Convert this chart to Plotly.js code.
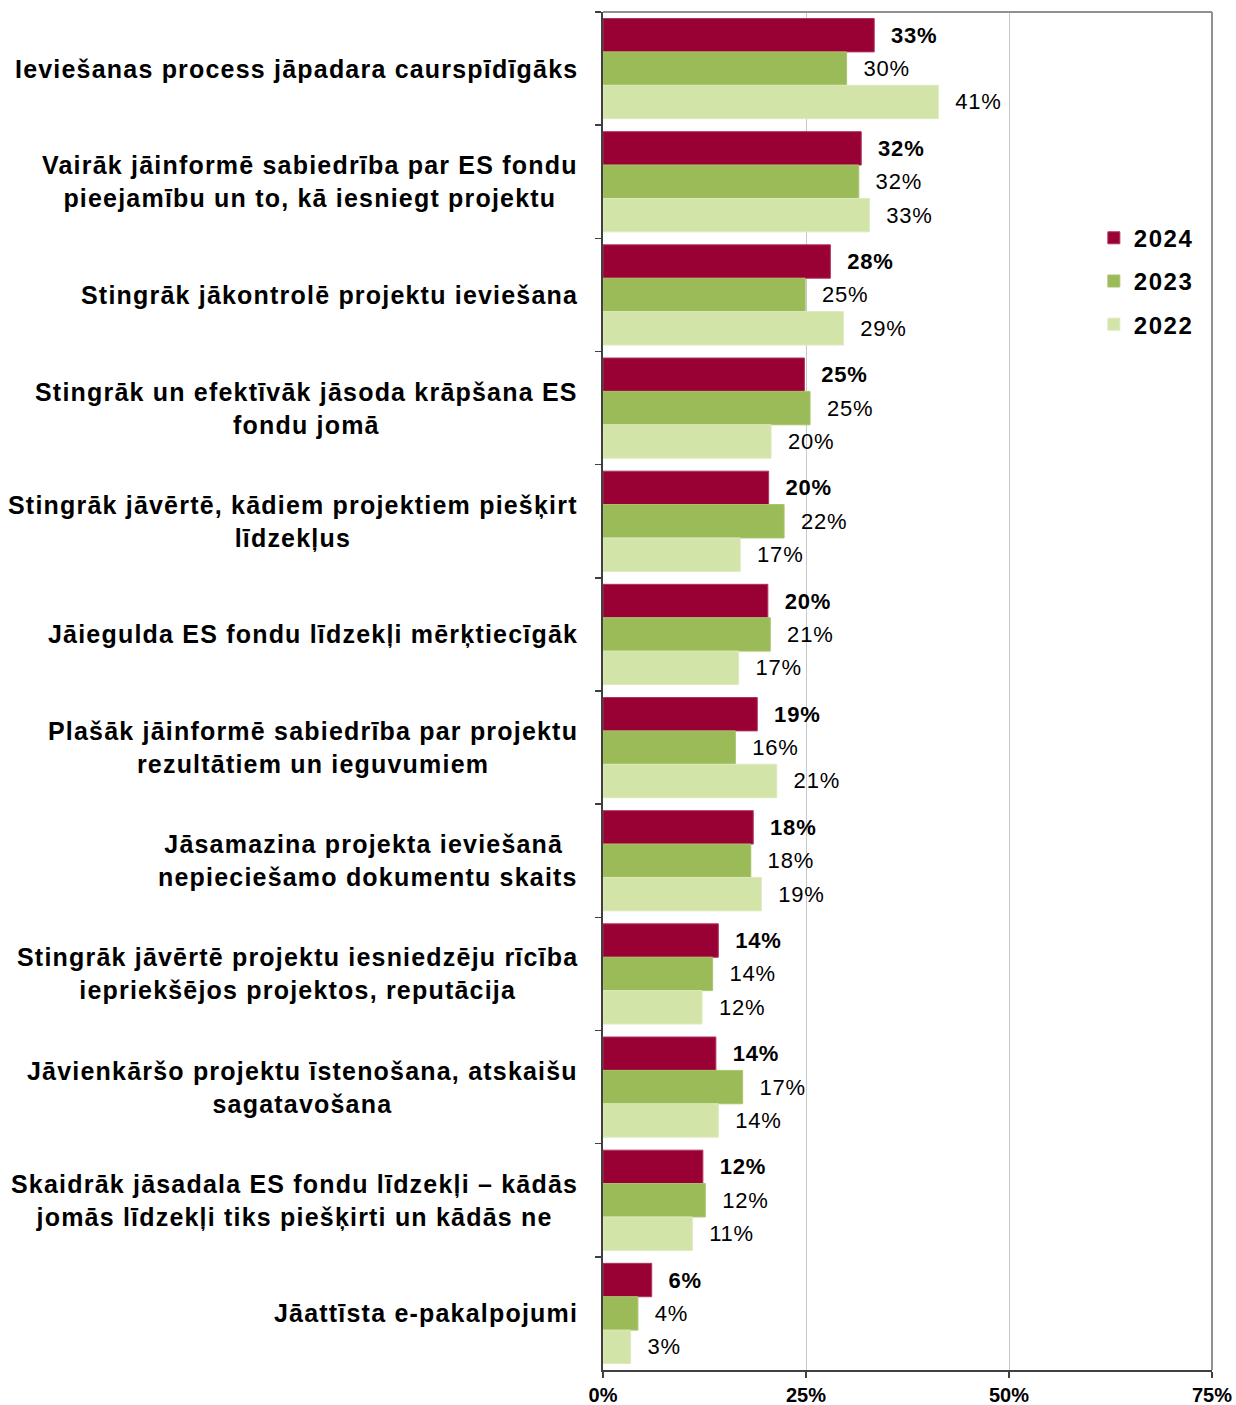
<!DOCTYPE html>
<html>
<head>
<meta charset="utf-8">
<script src="https://cdn.plot.ly/plotly-3.0.1.min.js"></script>
<style>
html, body { margin: 0; padding: 0; background: #ffffff; }
#chart { width: 1236px; height: 1405px; }
.annotation-text { letter-spacing: 1.2px; }
.legendtext { letter-spacing: 1.5px; }
.bartext { letter-spacing: 0.8px; }
</style>
</head>
<body>
<div id="chart"></div>
<script>
const categories = [
  "Ieviešanas process jāpadara caurspīdīgāks",
  "Vairāk jāinformē sabiedrība par ES fondu<br>pieejamību un to, kā iesniegt projektu",
  "Stingrāk jākontrolē projektu ieviešana",
  "Stingrāk un efektīvāk jāsoda krāpšana ES<br>fondu jomā",
  "Stingrāk jāvērtē, kādiem projektiem piešķirt<br>līdzekļus",
  "Jāiegulda ES fondu līdzekļi mērķtiecīgāk",
  "Plašāk jāinformē sabiedrība par projektu<br>rezultātiem un ieguvumiem",
  "Jāsamazina projekta ieviešanā&nbsp;<br>nepieciešamo dokumentu skaits",
  "Stingrāk jāvērtē projektu iesniedzēju rīcība<br>iepriekšējos projektos, reputācija",
  "Jāvienkāršo projektu īstenošana, atskaišu<br>sagatavošana",
  "Skaidrāk jāsadala ES fondu līdzekļi – kādās<br>jomās līdzekļi tiks piešķirti un kādās ne",
  "Jāattīsta e-pakalpojumi"
];
const catKeys = categories.map((c, i) => "c" + i);

const values2024 = [33.4, 31.8, 28.0, 24.8, 20.4, 20.3, 19.0, 18.5, 14.2, 13.9, 12.3, 6.0];
const values2023 = [30.0, 31.5, 24.9, 25.5, 22.3, 20.6, 16.3, 18.2, 13.5, 17.2, 12.6, 4.3];
const values2022 = [41.3, 32.8, 29.6, 20.7, 16.9, 16.7, 21.4, 19.5, 12.2, 14.2, 11.0, 3.4];

const labels2024 = [33, 32, 28, 25, 20, 20, 19, 18, 14, 14, 12, 6];
const labels2023 = [30, 32, 25, 25, 22, 21, 16, 18, 14, 17, 12, 4];
const labels2022 = [41, 33, 29, 20, 17, 17, 21, 19, 12, 14, 11, 3];

const xTickVals = [0, 25, 50, 75];
const xTickText = ["0%", "25%", "50%", "75%"];

const seriesNames = ["2024", "2023", "2022"];
const colors = ["#990033", "#9BBB59", "#D3E4A9"];
const lineColors = ["#b0335c", "#a9c46e", "#dde9bd"];

const pad = "\u00a0\u00a0";
function mk(name, vals, labs, idx, bold) {
  return {
    type: "bar",
    orientation: "h",
    name: name,
    y: catKeys,
    x: vals,
    text: labs.map(v => pad + (bold ? "<b>" + v + "%</b>" : v + "%")),
    textposition: "outside",
    constraintext: "none",
    cliponaxis: false,
    textfont: { family: "Liberation Sans, Arial, sans-serif", size: 22, color: "#000000" },
    marker: { color: colors[idx], line: { color: lineColors[idx], width: 1 } },
    legendgroup: "g" + idx,
    hoverinfo: "skip"
  };
}

const data = [
  mk(seriesNames[0], values2024, labels2024, 0, true),
  mk(seriesNames[1], values2023, labels2023, 1, false),
  mk(seriesNames[2], values2022, labels2022, 2, false)
];

const annotations = categories.map((c, i) => ({
  xref: "paper", yref: "y",
  x: 0, xshift: -23,
  y: catKeys[i],
  xanchor: "right", yanchor: "middle",
  align: "center",
  showarrow: false,
  text: "<b>" + c + "</b>",
  font: { family: "Liberation Sans, Arial, sans-serif", size: 25, color: "#000000" }
}));

const layout = {
  width: 1236, height: 1405,
  margin: { l: 603, r: 24, t: 12, b: 35 },
  paper_bgcolor: "#ffffff",
  plot_bgcolor: "#ffffff",
  barmode: "group",
  bargap: 0.115,
  bargroupgap: 0,
  showlegend: true,
  legend: {
    x: 0.806, xanchor: "left",
    y: 0.85, yanchor: "top",
    traceorder: "grouped",
    tracegroupgap: 9,
    itemwidth: 30,
    font: { family: "Liberation Sans, Arial, sans-serif", size: 24, color: "#000000", weight: "bold" },
    bgcolor: "rgba(255,255,255,0)"
  },
  xaxis: {
    range: [0, 75],
    tickvals: xTickVals,
    ticktext: xTickText,
    ticks: "outside",
    ticklen: 6,
    tickwidth: 1.5,
    tickcolor: "#404040",
    showline: true,
    linecolor: "#404040",
    linewidth: 2,
    showgrid: true,
    gridcolor: "#c8c8c8",
    gridwidth: 1,
    zeroline: false,
    tickfont: { family: "Liberation Sans, Arial, sans-serif", size: 20, color: "#000000", weight: "bold" },
    fixedrange: true
  },
  yaxis: {
    type: "category",
    autorange: "reversed",
    showticklabels: false,
    ticks: "outside",
    tickson: "boundaries",
    ticklen: 6,
    tickwidth: 1.5,
    tickcolor: "#404040",
    showline: true,
    linecolor: "#404040",
    linewidth: 2,
    showgrid: false,
    zeroline: false,
    fixedrange: true
  },
  shapes: [
    { type: "line", xref: "paper", yref: "paper", x0: 0, x1: 1, y0: 1, y1: 1, line: { color: "#909090", width: 2 } },
    { type: "line", xref: "paper", yref: "paper", x0: 1, x1: 1, y0: 0, y1: 1, line: { color: "#909090", width: 2 } }
  ],
  annotations: annotations
};

Plotly.newPlot("chart", data, layout, { staticPlot: true, displayModeBar: false });
</script>
</body>
</html>
